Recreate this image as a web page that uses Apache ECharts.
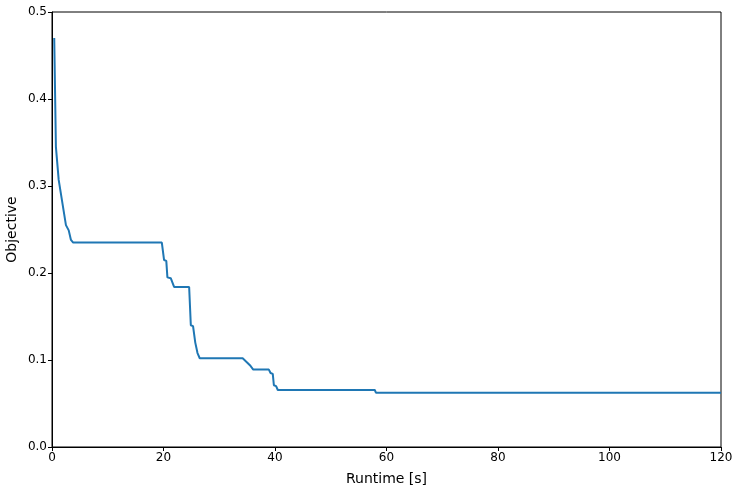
<!DOCTYPE html>
<html>
<head>
<meta charset="utf-8">
<script src="https://cdn.jsdelivr.net/npm/echarts@6/dist/echarts.min.js"></script>
<style>
  html, body { margin: 0; padding: 0; background: #fff; }
  #chart { width: 739px; height: 492px; }
</style>
</head>
<body>
<div id="chart"></div>
<script>
// values
const runtime = [0.4, 0.7, 1.2, 2.5, 3.0, 3.4, 3.8, 19.7, 20.1, 20.5, 20.7, 21.3, 21.9, 24.6, 24.9, 25.3, 25.7, 25.9, 26.1, 26.5, 34.2, 35.5, 36.1, 38.9, 39.2, 39.6, 39.8, 40.2, 40.5, 57.9, 58.1, 120];
const objective = [0.470, 0.345, 0.307, 0.255, 0.249, 0.238, 0.235, 0.235, 0.215, 0.214, 0.195, 0.194, 0.184, 0.184, 0.140, 0.139, 0.120, 0.119, 0.108, 0.102, 0.102, 0.094, 0.089, 0.089, 0.085, 0.084, 0.071, 0.070, 0.0655, 0.0655, 0.0625, 0.0625];
const xTicks = [0, 20, 40, 60, 80, 100, 120];
const yTicks = [0.0, 0.1, 0.2, 0.3, 0.4, 0.5];

const points = runtime.map((t, i) => [t, objective[i]]);

const chart = echarts.init(document.getElementById('chart'));
chart.setOption({
    animation: false,
    grid: {
        left: 52, right: 18, top: 12, bottom: 45,
        outerBoundsMode: 'none',
        containLabel: false,
        show: true, borderColor: '#000', borderWidth: 1, backgroundColor: 'transparent'
    },
    xAxis: {
        type: 'value',
        min: xTicks[0], max: xTicks[xTicks.length - 1], interval: 20,
        name: 'Runtime [s]', nameLocation: 'middle', nameGap: 25, nameMoveOverlap: false,
        nameTextStyle: { fontFamily: 'DejaVu Sans', fontSize: 14, color: '#000' },
        axisLine: { show: true, lineStyle: { color: '#000' } },
        axisTick: { show: true, inside: false, length: 4, lineStyle: { color: '#000' } },
        axisLabel: { fontFamily: 'DejaVu Sans', fontSize: 12, color: '#000', margin: 5 },
        splitLine: { show: false }
    },
    yAxis: {
        type: 'value',
        min: yTicks[0], max: yTicks[yTicks.length - 1], interval: 0.1,
        name: 'Objective', nameLocation: 'middle', nameGap: 33, nameMoveOverlap: false,
        nameTextStyle: { fontFamily: 'DejaVu Sans', fontSize: 14, color: '#000' },
        axisLine: { show: true, lineStyle: { color: '#000' } },
        axisTick: { show: true, inside: false, length: 4, lineStyle: { color: '#000' } },
        axisLabel: {
            fontFamily: 'DejaVu Sans', fontSize: 12, color: '#000', margin: 5,
            formatter: v => v.toFixed(1)
        },
        splitLine: { show: false }
    },
    series: [{
        type: 'line',
        data: points,
        showSymbol: false,
        symbol: 'none',
        lineStyle: { color: '#1f77b4', width: 2 },
        clip: true
    }]
});
</script>
</body>
</html>
